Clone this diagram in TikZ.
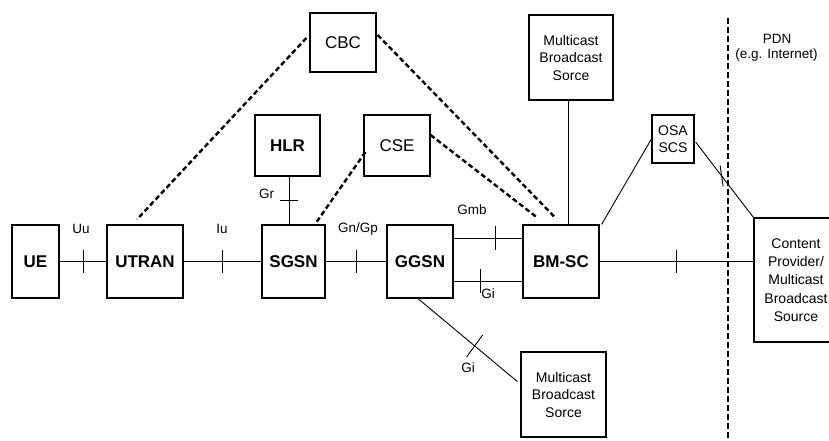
\documentclass[tikz,border=0pt]{standalone}
\usepackage{fontspec}
\setmainfont{Liberation Sans}
\usetikzlibrary{calc}
\begin{document}
\begin{tikzpicture}[x=1pt,y=-1pt,
  box/.style={draw, line width=1.2pt, inner sep=0pt, align=center},
  bbox/.style={box, font=\fontsize{17}{20}\selectfont\bfseries},
  rbox/.style={box, font=\fontsize{17}{20}\selectfont},
  sbox/.style={box, font=\fontsize{14}{17.5}\selectfont},
  conn/.style={line width=0.9pt},
  dashconn/.style={line width=2.4pt, dash pattern=on 5pt off 3pt},
  vdash/.style={line width=2.4pt, dash pattern=on 6pt off 3pt},
  lbl/.style={font=\fontsize{13.5}{15}\selectfont, inner sep=0pt},
  tickln/.style={line width=0.9pt}]
\useasboundingbox (0,0) rectangle (829,440);
\clip (0,0) rectangle (829,440);
\fill[white] (0,0) rectangle (829,440);

% main row
\node[bbox, minimum width=47pt, minimum height=73pt] (UE) at (35.5,261.5) {UE};
\node[bbox, minimum width=76pt, minimum height=73pt] (UTRAN) at (145,261.5) {UTRAN};
\node[bbox, minimum width=63pt, minimum height=73pt] (SGSN) at (293.5,261.5) {SGSN};
\node[bbox, minimum width=66pt, minimum height=73pt] (GGSN) at (420,261.5) {GGSN};
\node[bbox, minimum width=76pt, minimum height=73pt] (BMSC) at (561,261.5) {BM-SC};

% upper boxes
\node[bbox, minimum width=65pt, minimum height=61pt] (HLR) at (287.5,145.5) {HLR};
\node[rbox, minimum width=66pt, minimum height=61pt] (CSE) at (397,145.5) {CSE};
\node[rbox, minimum width=66pt, minimum height=59pt] (CBC) at (343,42.5) {CBC};
\node[sbox, minimum width=84pt, minimum height=85pt] (MBSt) at (571,57.5) {Multicast\\Broadcast\\Sorce};
\node[sbox, minimum width=42pt, minimum height=48pt] (OSA) at (673,139) {OSA\\SCS};
\node[sbox, minimum width=85pt, minimum height=85pt] (MBSb) at (563.5,394.5) {Multicast\\Broadcast\\Sorce};
\node[box, font=\fontsize{14}{18.2}\selectfont, minimum width=84pt, minimum height=124pt] (CP) at (796,280) {Content\\Provider/\\Multicast\\Broadcast\\Source};

% PDN boundary
\coordinate (pdnT) at (728,18);
\coordinate (pdnB) at (728,440);
\draw[vdash] (pdnT) -- (pdnB);
\node[lbl] (lPDN) at (777,39) {PDN};
\node[lbl] (lInet) at (776.5,55) {(e.g. Internet)};

% solid connectors with ticks
\draw[conn] (UE) -- coordinate[pos=.5](t1) (UTRAN);
\draw[tickln] ($(t1)+(0,-11.5)$) -- ($(t1)+(0,11.5)$);
\draw[conn] (UTRAN) -- coordinate[pos=.5](t2) (SGSN);
\draw[tickln] ($(t2)+(0,-11.5)$) -- ($(t2)+(0,11.5)$);
\draw[conn] (SGSN) -- coordinate[pos=.5](t3) (GGSN);
\draw[tickln] ($(t3)+(0,-11.5)$) -- ($(t3)+(0,11.5)$);
\draw[conn] ($(GGSN.east)+(0,-23.5)$) -- coordinate[pos=.61](t4) ($(BMSC.west)+(0,-23.5)$);
\draw[tickln] ($(t4)+(0,-12)$) -- ($(t4)+(0,12)$);
\draw[conn] ($(GGSN.east)+(0,19.5)$) -- coordinate[pos=.39](t5) ($(BMSC.west)+(0,19.5)$);
\draw[tickln] ($(t5)+(0,-12)$) -- ($(t5)+(0,12)$);
\draw[conn] (BMSC.east) -- coordinate[pos=.5](t6) (BMSC.east -| CP.west);
\draw[tickln] ($(t6)+(0,-11.5)$) -- ($(t6)+(0,11.5)$);
\draw[conn] ($(HLR.south)+(1.5,0)$) -- coordinate[pos=.5](t8) ($(HLR.south |- SGSN.north)+(1.5,0)$);
\draw[tickln] ($(t8)+(-9,0)$) -- ($(t8)+(9,0)$);
\draw[conn] ($(MBSt.south)+(-3,0)$) -- ($(MBSt.south |- BMSC.north)+(-3,0)$);
\draw[conn] ($(BMSC.north east)+(2,0)$) -- (OSA.west);
\draw[conn] ($(OSA.east)+(1,3)$) -- coordinate[pos=.45](t7) (CP.north west);
\draw[tickln] ($(t7)+(-1.5,-10.5)$) -- ($(t7)+(1.5,10.5)$);
\draw[conn] ($(GGSN.south)+(-2,0)$) -- coordinate[pos=.57](t9) ($(MBSb.north west)!0.35!(MBSb.south west)+(-3,0)$);
\draw[tickln] ($(t9)+(-8,11)$) -- ($(t9)+(8,-11)$);

% dashed connectors
\draw[dashconn] ($(CBC.west)+(-3,-4.5)$) -- ($(UTRAN.north)+(-8,-5)$);
\draw[dashconn] ($(CBC.east)+(1,-7.5)$) -- ($(BMSC.north)+(-6,-7)$);
\draw[dashconn] ($(CSE.east)+(0,-10.5)$) -- ($(BMSC.north)+(-24,-7)$);
\draw[dashconn] ($(CSE.west)+(2,6.5)$) -- ($(SGSN.north east)+(-10,-1)$);

% interface labels
\node[lbl] (lUu) at (81,229) {Uu};
\node[lbl] (lIu) at (222,229) {Iu};
\node[lbl] (lGn) at (358,229) {Gn/Gp};
\node[lbl] (lGr) at (266.5,194) {Gr};
\node[lbl] (lGmb) at (472,210) {Gmb};
\node[lbl] (lGi1) at (488,294) {Gi};
\node[lbl] (lGi2) at (468,368) {Gi};
\end{tikzpicture}
\end{document}
